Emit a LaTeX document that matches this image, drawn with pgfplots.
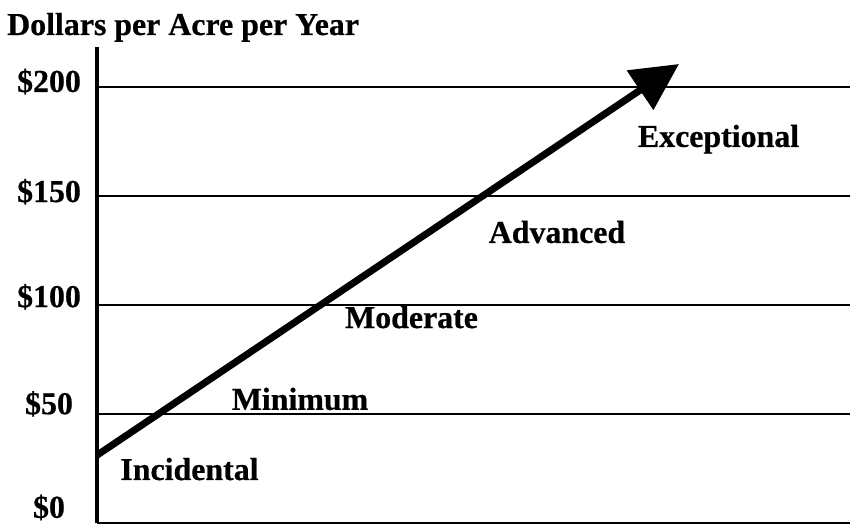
\documentclass[border=0pt]{standalone}
\usepackage{pgfplots}
\pgfplotsset{compat=1.18}
\usetikzlibrary{arrows.meta}
\usepackage{fontspec}
\setmainfont{Liberation Serif}[BoldFeatures={FakeBold=0.6}]

\newcommand{\lbl}{\fontsize{32}{36}\selectfont\bfseries}

\begin{document}
\begin{tikzpicture}[x=1bp,y=1bp]
\begin{axis}[
  at={(0,0)}, anchor=south west,
  scale only axis,
  width=753bp, height=476.3bp,
  xmin=0, xmax=753,
  ymin=0, ymax=218.3,
  axis x line*=bottom,
  axis y line*=left,
  x axis line style={-, line width=2.2bp, black},
  y axis line style={-, line width=3.6bp, black},
  xtick=\empty,
  ytick={0,50,100,150,200},
  yticklabels={\raisebox{5.5bp}{\$0},\$50,\raisebox{-2bp}{\$100},\raisebox{-6bp}{\$150},\raisebox{-5bp}{\$200}},
  major tick length=0pt,
  ymajorgrids,
  grid style={line width=2.2bp, black},
  yticklabel style={font=\lbl, anchor=base, inner sep=0pt, xshift=-48bp},
  clip=true,
]
  % growth arrow: from the entry level up to the exceptional tier
  \addplot[black, line width=7bp, line cap=butt,
           -{Triangle[length=47bp, width=46bp]}]
    coordinates {(0,31.2) (582,210.5)};

  % management tiers
  \node[font=\lbl, anchor=base, inner sep=0pt] at (axis cs:92.5,19.85) {Incidental};
  \node[font=\lbl, anchor=base, inner sep=0pt] at (axis cs:203,52.0) {Minimum};
  \node[font=\lbl, anchor=base, inner sep=0pt] at (axis cs:314.5,89.5) {Moderate};
  \node[font=\lbl, anchor=base, inner sep=0pt] at (axis cs:460,128.5) {Advanced};
  \node[font=\lbl, anchor=base, inner sep=0pt] at (axis cs:621.5,172.5) {Exceptional};
\end{axis}
\node[font=\lbl, anchor=base west, inner sep=0pt] at (-90,488.3) {Dollars per Acre per Year};
\pgfresetboundingbox
\path (-97,-1.7) rectangle (753,523.3);
\end{tikzpicture}
\end{document}
